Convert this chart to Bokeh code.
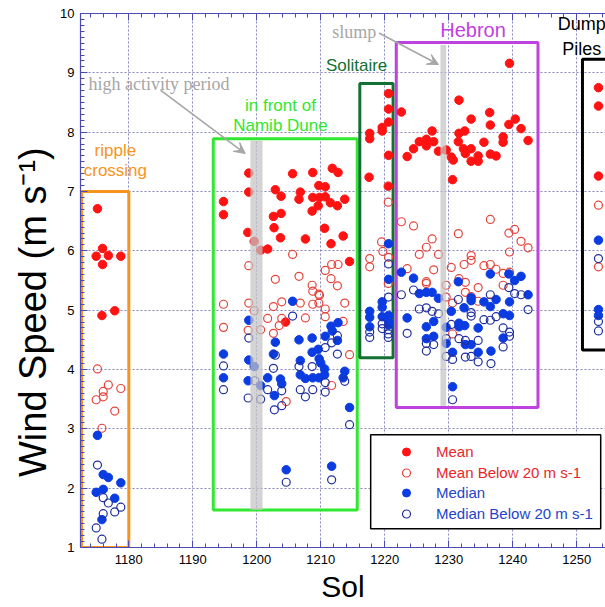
from bokeh.plotting import figure
from bokeh.models import (LinearAxis, Legend, LegendItem, BoxAnnotation, Label,
                          Arrow, VeeHead, Range1d, SingleIntervalTicker)
from bokeh.embed import file_html
from bokeh.resources import INLINE

# ---------------- data ----------------
mean_sol = [1175.1, 1175.9, 1174.9, 1176.8, 1178.75, 1175.9, 1175.8, 1177.8,
            1198.75, 1205.6, 1208.75, 1211.8, 1212.7, 1198.75, 1194.8, 1194.8, 1202.9, 1203.8,
            1206.8, 1206.6, 1209.7, 1210.7, 1208.75, 1209.8, 1210.7, 1211.5, 1212.6, 1213.75,
            1209.6, 1208.65, 1203.8, 1202.6, 1202.7, 1210.6, 1198.6, 1203.7, 1207.6, 1213.5,
            1211.6, 1201.7, 1214.5, 1199.6, 1200.6, 1204.5,
            1220.6, 1220.6, 1220.6, 1217.65, 1217.65, 1219.6, 1219.6, 1220.6, 1217.55, 1220.55,
            1222.6, 1239.5, 1231.6, 1236.4, 1233.5, 1236.5, 1240.4, 1239.4, 1241.3, 1242.4,
            1227.4, 1225.4, 1226.5, 1226.5, 1227.65, 1224.5, 1223.5, 1228.4, 1229.6, 1231.6,
            1232.5, 1231.5, 1232.3, 1233.5, 1232.6, 1235.5, 1238.5, 1238.5, 1230.4, 1230.7,
            1233.5, 1234.6, 1234.6, 1236.5, 1237.4, 1230.6,
            1253.4, 1253.4, 1253.4]
mean_ws = [6.71, 6.04, 5.91, 5.92, 5.91, 5.77, 4.91, 4.99,
           7.31, 7.30, 7.32, 7.39, 7.32, 6.99, 6.83, 6.61, 7.03, 6.92,
           6.99, 6.87, 7.10, 7.08, 6.90, 6.90, 6.91, 6.81, 6.76, 6.87,
           6.76, 6.67, 6.63, 6.58, 6.39, 6.38, 6.31, 6.22, 6.20, 6.25,
           6.12, 6.03, 5.82, 6.16, 6.01, 4.80,
           8.65, 8.39, 8.17, 7.98, 7.89, 8.08, 8.02, 7.61, 7.24, 7.09,
           8.34, 9.16, 8.54, 8.33, 8.22, 8.12, 8.22, 8.13, 8.06, 7.86,
           8.02, 7.84, 7.88, 7.77, 7.84, 7.72, 7.59, 7.68, 7.70, 7.98,
           8.02, 7.84, 7.72, 7.72, 7.64, 7.83, 7.92, 7.83, 7.58, 7.53,
           7.51, 7.60, 7.51, 7.63, 7.60, 7.20,
           8.75, 8.44, 7.26]

mean_low_sol = [1175.1, 1174.9, 1176.0, 1176.0, 1176.8, 1178.75, 1177.8, 1175.8,
                1198.75, 1205.6, 1202.9, 1206.6, 1208.65, 1210.7, 1211.7, 1212.7, 1211.6, 1212.6,
                1208.75, 1209.7, 1209.8, 1194.8, 1198.75, 1203.9, 1202.6, 1206.8, 1208.75, 1209.7,
                1210.7, 1213.75, 1199.6, 1201.7, 1203.9, 1207.6, 1210.7, 1213.5, 1194.8, 1198.65,
                1203.5, 1202.6, 1200.6, 1214.5, 1211.7, 1204.6,
                1220.55, 1219.5, 1219.7, 1217.65, 1217.65, 1220.6, 1220.55,
                1222.6, 1224.5, 1236.5, 1231.5, 1239.4, 1240.3, 1227.4, 1226.5, 1225.4, 1228.4,
                1241.3, 1242.4, 1239.5, 1233.5, 1233.5, 1232.4, 1223.5, 1227.65, 1235.5, 1236.5,
                1237.4, 1238.5, 1239.5, 1230.4, 1226.5, 1226.5, 1231.6, 1232.6, 1229.6, 1234.6,
                1233.5, 1232.6, 1234.6, 1238.5, 1229.6, 1230.6, 1236.5, 1230.6,
                1253.4, 1253.4]
mean_low_ws = [4.01, 3.49, 3.63, 3.54, 3.74, 3.68, 3.30, 3.01,
               5.75, 5.94, 5.52, 5.57, 5.42, 5.67, 5.77, 5.77, 5.53, 5.41,
               5.32, 5.27, 5.25, 5.10, 5.12, 5.14, 5.06, 5.12, 5.10, 5.12,
               5.02, 5.12, 4.99, 4.86, 4.86, 4.87, 4.89, 4.81, 4.71, 4.66,
               4.74, 4.61, 4.67, 4.25, 3.73, 3.46,
               6.82, 6.15, 5.99, 5.87, 5.73, 5.89, 5.45,
               6.49, 6.42, 6.53, 6.29, 6.30, 6.36, 6.20, 6.06, 5.94, 5.94,
               6.16, 6.05, 5.98, 5.92, 5.84, 5.77, 5.70, 5.68, 5.75, 5.77,
               5.69, 5.62, 5.64, 5.72, 5.48, 5.45, 5.53, 5.47, 5.42, 5.38,
               5.23, 5.30, 5.15, 5.42, 5.22, 5.12, 5.14, 4.60,
               6.77, 5.73]

median_sol = [1175.1, 1174.9, 1176.0, 1176.8, 1176.0, 1178.75, 1177.8, 1175.8,
              1205.6, 1198.75, 1202.9, 1206.6, 1208.65, 1210.7, 1211.6, 1211.8, 1212.7, 1212.6,
              1194.8, 1198.75, 1202.6, 1208.65, 1209.6, 1209.75, 1210.0, 1206.8, 1210.6, 1210.6,
              1213.75, 1194.8, 1198.65, 1201.7, 1203.7, 1203.9, 1206.8, 1207.6, 1208.75, 1209.7,
              1213.5, 1202.75, 1214.5, 1199.6, 1200.6, 1204.6, 1211.7,
              1220.6, 1220.6, 1219.6, 1219.6, 1217.65, 1217.65, 1217.65, 1219.6, 1220.6, 1220.6, 1220.6,
              1222.6, 1224.5, 1225.4, 1226.5, 1227.4, 1228.4, 1231.5, 1233.5, 1233.5, 1235.5,
              1237.4, 1236.5, 1236.5, 1239.4, 1240.3, 1241.3, 1242.4, 1239.5, 1223.5, 1227.65,
              1226.5, 1230.4, 1232.4, 1238.5, 1239.5, 1231.6, 1231.6, 1232.5, 1234.6, 1226.5,
              1227.65, 1238.5, 1232.6, 1233.5, 1236.6, 1234.6, 1230.6, 1229.6, 1229.6, 1230.6,
              1253.4, 1253.4, 1253.4]
median_ws = [2.89, 1.93, 2.23, 2.18, 1.98, 2.09, 1.83, 1.47,
             5.15, 4.83, 4.46, 4.50, 4.53, 4.56, 4.73, 4.65, 4.79, 4.49,
             4.26, 4.16, 4.26, 4.29, 4.34, 4.18, 4.11, 4.15, 4.01, 3.91,
             3.97, 3.86, 3.81, 3.86, 3.84, 3.76, 3.91, 3.85, 3.86, 3.86,
             3.86, 3.56, 3.36, 4.05, 3.73, 2.31, 2.37,
             6.12, 5.52, 5.14, 5.05, 4.98, 4.88, 4.72, 4.89, 4.91, 4.81, 4.75,
             5.64, 5.54, 5.28, 5.30, 5.30, 5.20, 5.48, 5.21, 5.16, 5.14,
             5.18, 5.61, 5.06, 5.61, 5.50, 5.57, 5.26, 5.14, 4.87, 4.81,
             4.72, 4.98, 5.04, 4.94, 4.91, 4.78, 4.72, 4.74, 4.70, 4.52,
             4.56, 4.53, 4.42, 4.42, 4.31, 4.29, 4.29, 4.71, 4.44, 3.71,
             6.18, 5.01, 4.91]

median_low_sol = [1175.1, 1176.0, 1176.8, 1178.75, 1177.8, 1176.0, 1174.9, 1175.8,
                  1205.6, 1198.75, 1202.9, 1194.8, 1202.6, 1206.6, 1208.65, 1210.7, 1211.7, 1212.6,
                  1212.6, 1199.7, 1194.8, 1198.65, 1200.6, 1201.7, 1203.9, 1206.8, 1207.6, 1208.75,
                  1210.7, 1213.75, 1210.7, 1203.9, 1202.75, 1214.5, 1204.6, 1211.7,
                  1220.6, 1220.6, 1217.65, 1217.65, 1219.6, 1219.6, 1220.55, 1220.55, 1220.55,
                  1222.6, 1224.5, 1225.4, 1226.5, 1227.4, 1228.4, 1231.5, 1233.5, 1233.5, 1236.5,
                  1236.5, 1237.4, 1235.5, 1239.4, 1240.3, 1241.3, 1242.4, 1230.4, 1223.5, 1226.5,
                  1226.5, 1227.65, 1231.6, 1232.6, 1234.6, 1238.5, 1239.5, 1239.5, 1238.5, 1229.6,
                  1229.6, 1230.6, 1232.6, 1233.5, 1234.6, 1236.6, 1230.6,
                  1253.4, 1253.4, 1253.4]
median_low_ws = [2.39, 1.84, 1.75, 1.68, 1.60, 1.57, 1.33, 1.14,
                 4.90, 4.53, 4.24, 4.06, 4.02, 4.05, 4.05, 4.37, 4.45, 4.57,
                 4.26, 3.81, 3.66, 3.52, 3.50, 3.66, 3.64, 3.66, 3.54, 3.66,
                 3.62, 3.80, 3.78, 3.39, 3.32, 3.07, 2.10, 2.14,
                 5.78, 5.22, 4.63, 4.54, 4.77, 4.69, 4.67, 4.60, 4.54,
                 5.26, 5.34, 5.02, 5.04, 4.98, 4.94, 5.18, 4.96, 4.90, 5.26,
                 4.83, 4.89, 4.84, 5.38, 5.28, 5.26, 5.01, 4.76, 4.61, 4.44,
                 4.31, 4.42, 4.52, 4.49, 4.49, 4.70, 4.63, 4.56, 4.38, 4.52,
                 4.22, 4.17, 4.21, 4.22, 4.13, 4.10, 3.49,
                 5.87, 4.81, 4.65]

# site boxes: name, sol range, wind-speed range
site_names = ["ripple crossing", "in front of Namib Dune", "Solitaire", "Hebron", "Dump Piles"]
site_sol0 = [1172.6, 1193.2, 1216.1, 1221.8, 1250.9]
site_sol1 = [1180.0, 1215.7, 1221.3, 1243.95, 1262.0]
site_ws0 = [1.0, 1.63, 4.20, 3.36, 4.33]
site_ws1 = [7.0, 7.89, 8.82, 9.51, 9.23]

# grey highlighted periods
period_sol0 = [1199.0, 1228.7]
period_sol1 = [1200.9, 1229.6]
period_ws0 = [1.63, 3.39]
period_ws1 = [7.86, 9.47]

# ---------------- styling ----------------
RED = "#ff1212"
RED_OPEN = "#e5443c"
BLUE = "#0b3ce2"
BLUE_OPEN = "#1f2f9f"
AXIS = "#4a4ab0"
GRID = "#7a7ab8"
GRAY = "#a6a6a6"
site_colors = ["#f7941d", "#2fe82f", "#137033", "#bf42e0", "#000000"]
SANS = "Liberation Sans"
SERIF = "Liberation Serif"
NBSP = "\u00a0"

p = figure(width=605, height=607,
           x_range=Range1d(1172.45, 1254.5), y_range=Range1d(1, 10),
           output_backend="svg", toolbar_location=None,
           min_border_left=80, min_border_right=0, min_border_top=13, min_border_bottom=60)
p.outline_line_color = None
p.background_fill_color = "white"

xt = SingleIntervalTicker(interval=10, num_minor_ticks=5)
yt = SingleIntervalTicker(interval=1, num_minor_ticks=10)
p.xaxis.ticker = xt
p.yaxis.ticker = yt
p.xgrid.ticker = xt
p.ygrid.ticker = yt
for ax in (p.xaxis, p.yaxis):
    ax.axis_line_color = AXIS
    ax.axis_line_width = 1.2
    ax.major_tick_line_color = AXIS
    ax.minor_tick_line_color = AXIS
    ax.major_tick_in = 7
    ax.major_tick_out = 0
    ax.minor_tick_in = 4
    ax.minor_tick_out = 0
    ax.major_label_text_font = SANS
    ax.major_label_text_font_size = "13px"
    ax.major_label_text_color = "black"
    ax.axis_label_text_font = SANS
    ax.axis_label_text_font_style = "normal"
    ax.axis_label_text_color = "black"
p.xaxis.major_label_standoff = 7
p.yaxis.major_label_standoff = 6
# trailing no-break spaces push the rotated title down to where the original sits
p.yaxis.axis_label = "Wind Speed (m s\u207b\u00b9)" + NBSP * 6
p.yaxis.axis_label_text_font_size = "38px"
p.yaxis.axis_label_standoff = 3
p.xaxis.axis_label = "Sol"
p.xaxis.axis_label_text_font_size = "30px"
p.xaxis.axis_label_standoff = 3

top = LinearAxis(ticker=xt, axis_line_color=AXIS, axis_line_width=1.2,
                 major_tick_line_color=AXIS, minor_tick_line_color=AXIS,
                 major_tick_in=7, major_tick_out=0, minor_tick_in=4, minor_tick_out=0,
                 major_label_text_font_size="1px", major_label_text_color=None,
                 major_label_standoff=0)
p.add_layout(top, "above")

for g in (p.xgrid, p.ygrid):
    g.grid_line_color = GRID
    g.grid_line_dash = "2 2"
    g.grid_line_width = 1
    g.grid_line_alpha = 0.9

# site boxes
p.quad(left=site_sol0, right=site_sol1, bottom=site_ws0, top=site_ws1,
       fill_color=None, line_color=site_colors, line_width=3)

# data
r_mean = p.scatter(mean_sol, mean_ws, marker="circle", size=8.5,
                   fill_color=RED, line_color=RED)
r_meanlow = p.scatter(mean_low_sol, mean_low_ws, marker="circle", size=8,
                      fill_color=None, line_color=RED_OPEN, line_width=1.2)
r_med = p.scatter(median_sol, median_ws, marker="circle", size=8.5,
                  fill_color=BLUE, line_color=BLUE)
r_medlow = p.scatter(median_low_sol, median_low_ws, marker="circle", size=8,
                     fill_color=None, line_color=BLUE_OPEN, line_width=1.2)

# grey periods drawn over the points
p.quad(left=period_sol0, right=period_sol1, bottom=period_ws0, top=period_ws1,
       fill_color="#c4c4c4", fill_alpha=0.72, line_color=None)

# site labels
def lab(x, y, text, color, size, font=SANS, align="center"):
    p.add_layout(Label(x=x, y=y, text=text, text_color=color, text_font=font,
                       text_font_size=size, text_align=align, text_baseline="middle"))

lab(1177.9, 7.69, "ripple", site_colors[0], "17px")
lab(1177.9, 7.36, "crossing", site_colors[0], "17px")
lab(1203.7, 8.45, "in front of", site_colors[1], "17px")
lab(1203.7, 8.11, "Namib Dune", site_colors[1], "17px")
lab(1215.6, 9.13, "Solitaire", site_colors[2], "17px")
lab(1233.8, 9.73, "Hebron", site_colors[3], "20px")
lab(1250.8, 9.82, "Dump", site_colors[4], "18px")
lab(1250.8, 9.41, "Piles", site_colors[4], "18px")
lab(1173.7, 8.82, "high activity period", GRAY, "18px", font=SERIF, align="left")
lab(1211.8, 9.69, "slump", GRAY, "18px", font=SERIF, align="left")

p.add_layout(Arrow(end=VeeHead(size=11, line_color=GRAY, fill_color=GRAY),
                   x_start=1184.95, y_start=8.71, x_end=1198.2, y_end=7.64,
                   line_color=GRAY, line_width=1.6))
p.add_layout(Arrow(end=VeeHead(size=11, line_color=GRAY, fill_color=GRAY),
                   x_start=1219.1, y_start=9.67, x_end=1228.4, y_end=9.14,
                   line_color=GRAY, line_width=1.6))

# legend
p.add_layout(BoxAnnotation(left=1217.8, right=1253.75, bottom=1.315, top=2.90,
                           fill_color="white", fill_alpha=1.0,
                           line_color="black", line_width=1.5, line_alpha=1.0))
common = dict(orientation="vertical", label_text_font=SANS, label_text_font_size="15px",
              glyph_width=20, glyph_height=21, label_height=21, spacing=0, padding=0,
              margin=0, border_line_color=None, background_fill_alpha=0, label_standoff=20)
leg1 = Legend(items=[LegendItem(label="Mean", renderers=[r_mean]),
                     LegendItem(label="Mean Below 20 m s-1", renderers=[r_meanlow])],
              location=(316, 64), label_text_color="#e8262a", **common)
leg2 = Legend(items=[LegendItem(label="Median", renderers=[r_med]),
                     LegendItem(label="Median Below 20 m s-1", renderers=[r_medlow])],
              location=(316, 23), label_text_color="#2444cc", **common)
p.add_layout(leg1)
p.add_layout(leg2)

open("out.html", "w").write(file_html(p, INLINE))
